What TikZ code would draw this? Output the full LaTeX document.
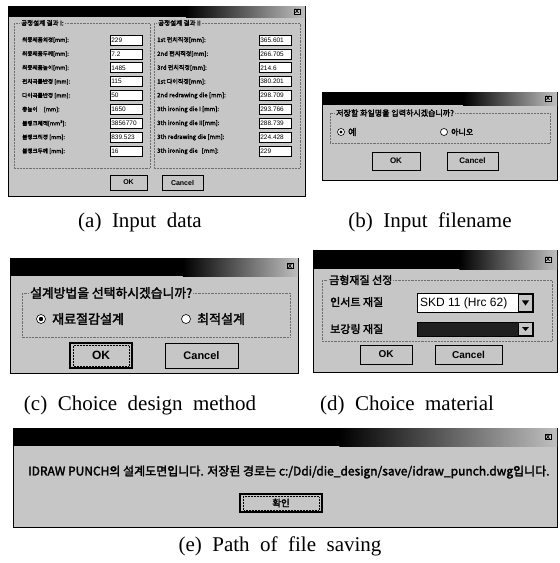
\documentclass[tikz,border=0pt]{standalone}
\usepackage{fontspec}
\setmainfont{Liberation Serif}
\newfontfamily\ui{Liberation Sans}
\newfontfamily\kr[FakeBold=2.2]{Noto Sans CJK KR}
\definecolor{winface}{RGB}{198,198,198}
\definecolor{etchline}{RGB}{110,110,110}
\tikzset{
  win/.style={fill=winface, draw=black, line width=0.9pt},
  etch/.style={draw=etchline, line width=0.45pt, densely dotted},
  field/.style={draw=black, fill=white, line width=0.7pt, inner sep=1pt, anchor=west, align=left},
  btn/.style={draw=black, fill=winface, line width=1pt, inner sep=0pt},
  focusbtn/.style={draw=black, fill=winface, line width=1.6pt, inner sep=0pt},
  lbl/.style={anchor=west, inner sep=0pt},
  grouptitle/.style={anchor=west, inner xsep=1pt, inner ysep=0pt, fill=winface},
  captext/.style={inner sep=0pt, font=\fontsize{21}{23}\selectfont},
  radio/.style={circle, draw=black, fill=white, line width=0.6pt, inner sep=0pt},
  closebox/.style={fill=winface, draw=black, line width=0.5pt, inner sep=0.6pt, font=\ui\bfseries\fontsize{8}{8}\selectfont},
}
% title bar: solid black, fading to grey towards the right end
\newcommand\wintitlebar[4]{%
  \fill[black] (#1,#2) rectangle ({0.4*#1+0.6*#3},#4);
  \shade[left color=black, right color=gray!50] ({0.4*#1+0.6*#3},#2) rectangle (#3,#4);
}
% combo box arrow button
\newcommand\dropbtn[3]{%
  \fill[winface] (#1,#2) rectangle ++(14,#3);
  \draw[black, line width=0.5pt] (#1,#2) rectangle ++(14,#3);
  \fill[black] ({#1+3.5},{#2+0.35*#3}) -- ++(7,0) -- ++(-3.5,{0.3*#3}) -- cycle;
}
\begin{document}
\begin{tikzpicture}[x=1pt,y=-1pt]
\useasboundingbox (0,0) rectangle (560,563);
\fill[white] (0,0) rectangle (560,563);

%% ---------------- (a) input data ----------------
\draw[win] (8,6) rectangle (305,196);
\wintitlebar{8}{6}{305}{17}
\node[closebox] (a-close) at (297,11.5) {x};
\draw[etch] (14,23) rectangle (150,168);
\draw[etch] (154,23) rectangle (300,168);
\node[grouptitle, font=\kr\fontsize{6.5}{7}\selectfont] (a-g1) at (20,23) {공정설계 결과 I:};
\node[grouptitle, font=\kr\fontsize{6.5}{7}\selectfont] (a-g2) at (157,23) {공정설계 결과 II};
\foreach \lab/\val [count=\i] in {%
  {최종제품외경[mm]:}/229,
  {최종제품두께[mm]:}/7.2,
  {최종제품높이[mm]:}/1485,
  {펀치곡률반경 [mm]:}/115,
  {다이곡률반경 [mm]:}/50,
  {총높이 \ \ \ \ [mm]:}/1650,
  {블랭크체적[mm³]:}/3856770,
  {블랭크직경 [mm]:}/839.523,
  {블랭크두께 [mm]:}/16}{
  \pgfmathsetmacro\yy{40+13.9*(\i-1)}
  \node[lbl, font=\kr\fontsize{5.6}{7}\selectfont] (a-l\i) at (22,\yy) {\lab};
  \node[field, text width=30pt, minimum height=10pt, font=\ui\fontsize{6.5}{7}\selectfont] (a-v\i) at (110,\yy) {\val};
}
\foreach \lab/\val [count=\i] in {%
  {1st 펀치직경[mm]:}/365.601,
  {2nd 펀치직경[mm]:}/266.705,
  {3rd 펀치직경[mm]:}/214.6,
  {1st 다이직경[mm]:}/380.201,
  {2nd redrawing die [mm]:}/298.709,
  {3th ironing die I [mm]:}/293.766,
  {3th ironing die II[mm]:}/288.739,
  {3th redrawing die [mm]:}/224.428,
  {3th ironing die \ \ [mm]:}/229}{
  \pgfmathsetmacro\yy{40+13.9*(\i-1)}
  \node[lbl, font=\kr\fontsize{6}{7}\selectfont] (a-r\i) at (157,\yy) {\lab};
  \node[field, text width=30pt, minimum height=10pt, font=\ui\fontsize{6.5}{7}\selectfont] (a-w\i) at (259,\yy) {\val};
}
\node[btn, minimum width=37pt, minimum height=15pt, font=\ui\bfseries\fontsize{7}{8}\selectfont] (a-ok) at (128.5,182.5) {OK};
\node[btn, minimum width=41pt, minimum height=15pt, font=\ui\bfseries\fontsize{7}{8}\selectfont] (a-cancel) at (182.5,182.5) {Cancel};
\node[captext] (cap-a) at (140,222) {(a)\ \ Input\ \ data};

%% ---------------- (b) input filename ----------------
\draw[win] (322,92) rectangle (557,180);
\wintitlebar{322}{92}{557}{105}
\node[closebox] (b-close) at (548,98.5) {x};
\draw[etch] (330,113) rectangle (550,143);
\node[grouptitle, font=\kr\fontsize{8}{9}\selectfont] (b-g) at (335,113) {저장할 화일명을 입력하시겠습니까?};
\node[radio, minimum size=7pt] (b-r1) at (341,132) {};
\fill[black] (b-r1.center) circle (1.7pt);
\node[lbl, font=\kr\fontsize{9}{9}\selectfont] (b-t1) at (348,132) {예};
\node[radio, minimum size=7pt] (b-r2) at (444,132) {};
\node[lbl, font=\kr\fontsize{8}{9}\selectfont] (b-t2) at (451,132) {아니오};
\node[btn, minimum width=48pt, minimum height=18pt, font=\ui\bfseries\fontsize{8}{9}\selectfont] (b-ok) at (396,161) {OK};
\node[btn, minimum width=51pt, minimum height=18pt, font=\ui\bfseries\fontsize{8}{9}\selectfont] (b-cancel) at (472.5,161) {Cancel};
\node[captext] (cap-b) at (430,222) {(b)\ \ Input\ \ filename};

%% ---------------- (c) design method ----------------
\draw[win] (10,258) rectangle (298,373);
\wintitlebar{10}{258}{298}{276}
\node[closebox] (c-close) at (290,266) {x};
\draw[etch] (22,293) rectangle (290,337);
\node[grouptitle, font=\kr\fontsize{12.8}{13}\selectfont] (c-g) at (29,293) {설계방법을 선택하시겠습니까?};
\node[radio, minimum size=9pt] (c-r1) at (41,319) {};
\fill[black] (c-r1.center) circle (2.2pt);
\node[lbl, font=\kr\fontsize{13}{13}\selectfont] (c-t1) at (52,319) {재료절감설계};
\node[radio, minimum size=9pt] (c-r2) at (186,319) {};
\node[lbl, font=\kr\fontsize{13}{13}\selectfont] (c-t2) at (197,319) {최적설계};
\node[focusbtn, minimum width=62pt, minimum height=25pt, font=\ui\bfseries\fontsize{12}{12}\selectfont] (c-ok) at (101,355.5) {OK};
\draw[densely dotted, line width=0.5pt] ([shift={(4pt,3pt)}]c-ok.south west) rectangle ([shift={(-4pt,-3pt)}]c-ok.north east);
\node[btn, minimum width=73pt, minimum height=25pt, font=\ui\bfseries\fontsize{11}{12}\selectfont] (c-cancel) at (201.5,355.5) {Cancel};
\node[captext] (cap-c) at (140,405) {(c)\ \ Choice\ \ design\ \ method};

%% ---------------- (d) material ----------------
\draw[win] (313,250) rectangle (557,372);
\wintitlebar{313}{250}{557}{269}
\node[closebox] (d-close) at (548,259.5) {x};
\draw[etch] (322,280) rectangle (552,341);
\node[grouptitle, font=\kr\fontsize{11}{11}\selectfont] (d-g) at (328,280) {금형재질 선정};
\node[lbl, font=\kr\fontsize{11}{11}\selectfont] (d-l1) at (330,302) {인서트 재질};
\node[lbl, font=\kr\fontsize{11}{11}\selectfont] (d-l2) at (330,329) {보강링 재질};
\node[draw=black, fill=white, line width=0.7pt, minimum width=116pt, minimum height=19pt, inner sep=0pt, anchor=west] (d-c1) at (417,303) {};
\node[lbl, font=\ui\fontsize{12}{12}\selectfont] (d-c1t) at (420,303) {SKD 11 (Hrc 62)};
\dropbtn{518.5}{294.5}{17}
\node[draw=black, fill=black!88, line width=0.7pt, minimum width=116pt, minimum height=14pt, inner sep=0pt, anchor=west] (d-c2) at (417,329) {};
\dropbtn{518.5}{322.5}{13}
\node[btn, minimum width=52pt, minimum height=19pt, font=\ui\bfseries\fontsize{10}{10}\selectfont] (d-ok) at (386,354.5) {OK};
\node[btn, minimum width=67pt, minimum height=19pt, font=\ui\bfseries\fontsize{10}{10}\selectfont] (d-cancel) at (468.5,354.5) {Cancel};
\node[captext] (cap-d) at (407,405) {(d)\ \ Choice\ \ material};

%% ---------------- (e) path of saved file ----------------
\draw[win] (13,428) rectangle (557,527);
\wintitlebar{13}{428}{557}{446}
\node[closebox] (e-close) at (548,437) {x};
\node[lbl, font=\kr\fontsize{12}{12}\selectfont] (e-msg) at (28,472) {IDRAW PUNCH의 설계도면입니다. 저장된 경로는 c:/Ddi/die\_design/save/idraw\_punch.dwg입니다.};
\node[focusbtn, minimum width=82pt, minimum height=18pt, font=\kr\fontsize{9.5}{10}\selectfont] (e-ok) at (281,503) {확인};
\draw[densely dotted, line width=0.5pt] ([shift={(4pt,3pt)}]e-ok.south west) rectangle ([shift={(-4pt,-3pt)}]e-ok.north east);
\node[captext] (cap-e) at (280,546) {(e)\ \ Path\ \ of\ \ file\ \ saving};
\end{tikzpicture}
\end{document}
